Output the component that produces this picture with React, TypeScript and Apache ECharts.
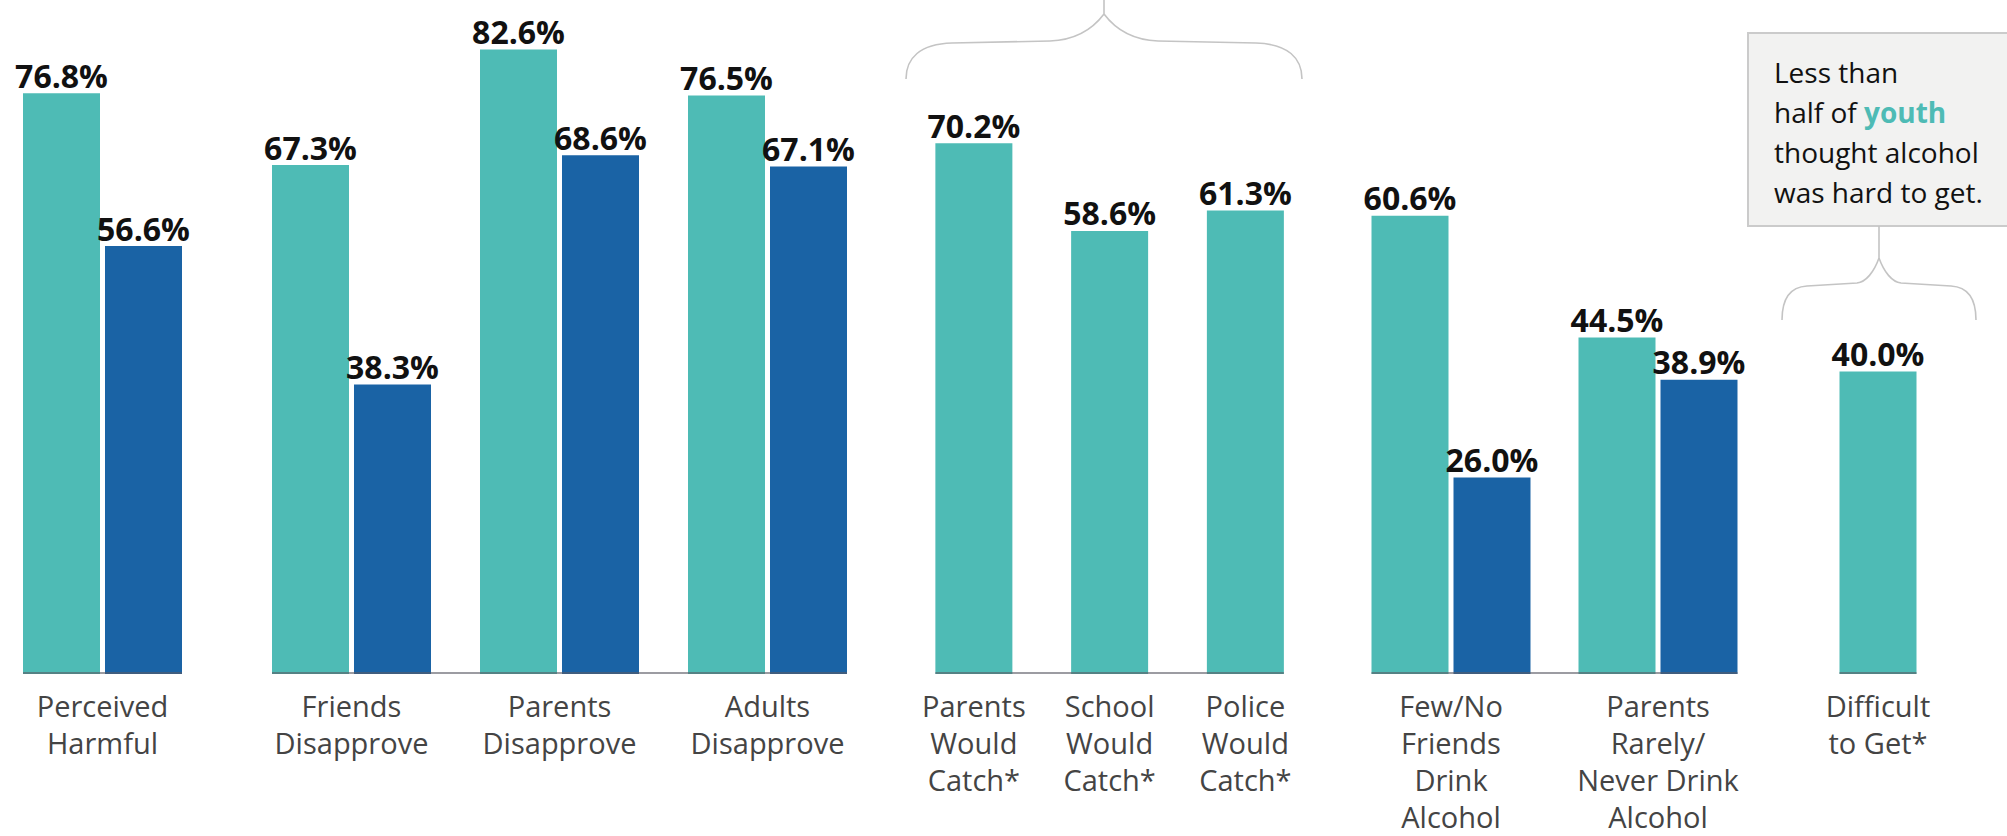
import React, { useEffect, useRef } from "react";
import * as echarts from "echarts";

// ---------------- data ----------------
const categories = [
  "Perceived\nHarmful",
  "Friends\nDisapprove",
  "Parents\nDisapprove",
  "Adults\nDisapprove",
  "Parents\nWould\nCatch*",
  "School\nWould\nCatch*",
  "Police\nWould\nCatch*",
  "Few/No\nFriends\nDrink\nAlcohol",
  "Parents\nRarely/\nNever Drink\nAlcohol",
  "Difficult\nto Get*",
];
const youthValues = [76.8, 67.3, 82.6, 76.5, 70.2, 58.6, 61.3, 60.6, 44.5, 40.0];
const comparisonValues: (number | null)[] = [56.6, 38.3, 68.6, 67.1, null, null, null, 26.0, 38.9, null];
// category indices belonging to each visual cluster
const clusterMembers = [[0], [1, 2, 3], [4, 5, 6], [7, 8], [9]];

// ---------------- layout / style ----------------
const W = 2007;
const H = 836;
const BASE_Y = 674; // pixel y of value 0
const GRID_TOP = 1;
const Y_MAX = 89;
const BAR_W = 77;
const BAR_GAP = 5;
const clusterLayout = [
  { left: 23, band: 159 },
  { left: 247.5, band: 208 },
  { left: 906, band: 135.75 },
  { left: 1347.5, band: 207 },
  { left: 1839.5, band: 77 },
];
const TEAL = "#4EBBB5";
const BLUE = "#1A63A5";
const FONT = "'Open Sans', 'Noto Sans', Lato, sans-serif";

const braceTopPath =
  "M 906 79 C 906 58, 920 44, 952 43 L 1050 41 C 1075 40, 1092 30, 1104 14 " +
  "C 1116 30, 1133 40, 1158 41 L 1256 43 C 1288 44, 1302 58, 1302 79 M 1104 14 L 1104 0";
const braceBoxPath =
  "M 1782 320 C 1782 298, 1790 287, 1807 286 L 1857 283 C 1866 282, 1874 272, 1879 258 " +
  "C 1884 272, 1892 282, 1901 283 L 1951 286 C 1968 287, 1976 298, 1976 320 M 1879 258 L 1879 226";

echarts.graphic.registerShape("braceTop", echarts.graphic.extendPath(braceTopPath, {}));
echarts.graphic.registerShape("braceBox", echarts.graphic.extendPath(braceBoxPath, {}));

function buildOption() {
  const grid: any[] = [];
  const xAxis: any[] = [];
  const yAxis: any[] = [];
  const series: any[] = [];
  const graphic: any[] = [];

  const valueLabel = {
    show: true,
    position: "top",
    distance: 2,
    fontFamily: FONT,
    fontSize: 32,
    lineHeight: 32,
    fontWeight: "bold",
    color: "#111",
    formatter: (p: any) => Number(p.value).toFixed(1) + "%",
  };

  clusterMembers.forEach((members, i) => {
    const { left, band } = clusterLayout[i];
    const hasPair = members.some((k) => comparisonValues[k] != null);
    const width = band * members.length;
    grid.push({
      left,
      top: GRID_TOP,
      width,
      height: BASE_Y - GRID_TOP,
      containLabel: false,
      outerBoundsMode: "none",
    });
    xAxis.push({
      gridIndex: i,
      type: "category",
      data: members.map((k) => categories[k]),
      axisLine: { show: false },
      axisTick: { show: false },
      splitLine: { show: false },
      axisLabel: {
        interval: 0,
        margin: 13,
        fontFamily: FONT,
        fontSize: 29,
        lineHeight: 37,
        color: "#444",
        hideOverlap: false,
      },
    });
    yAxis.push({
      gridIndex: i,
      type: "value",
      min: 0,
      max: Y_MAX,
      show: false,
      splitLine: { show: false },
    });
    series.push({
      name: "Youth",
      type: "bar",
      xAxisIndex: i,
      yAxisIndex: i,
      data: members.map((k) => youthValues[k]),
      barWidth: BAR_W,
      barGap: ((BAR_GAP / BAR_W) * 100).toFixed(2) + "%",
      itemStyle: { color: TEAL },
      label: valueLabel,
    });
    if (hasPair) {
      series.push({
        name: "Comparison",
        type: "bar",
        xAxisIndex: i,
        yAxisIndex: i,
        data: members.map((k) => comparisonValues[k]),
        barWidth: BAR_W,
        barGap: ((BAR_GAP / BAR_W) * 100).toFixed(2) + "%",
        itemStyle: { color: BLUE },
        label: valueLabel,
      });
    }
    // baseline under the bars of this cluster
    const groupW = hasPair ? BAR_W * 2 + BAR_GAP : BAR_W;
    const inset = (band - groupW) / 2;
    graphic.push({
      type: "line",
      z: 100,
      shape: { x1: left + inset, y1: BASE_Y - 1, x2: left + width - inset, y2: BASE_Y - 1 },
      style: { stroke: "rgba(90,90,100,0.6)", lineWidth: 2 },
    });
  });

  // braces and callout
  graphic.push({
    type: "braceTop",
    x: 0,
    y: 0,
    style: { fill: "none", stroke: "#c4c4c4", lineWidth: 1.6 },
  });
  graphic.push({
    type: "rect",
    shape: { x: 1748, y: 33, width: 280, height: 193 },
    style: { fill: "#f2f2f1", stroke: "#cbcbcb", lineWidth: 2 },
  });
  graphic.push({
    type: "braceBox",
    x: 0,
    y: 0,
    style: { fill: "none", stroke: "#c4c4c4", lineWidth: 1.6 },
  });
  graphic.push({
    type: "text",
    x: 1774,
    y: 52,
    z: 10,
    style: {
      text: "Less than\nhalf of {y|youth}\nthought alcohol\nwas hard to get.",
      fontFamily: FONT,
      fontSize: 28,
      lineHeight: 40,
      fill: "#111",
      verticalAlign: "top",
      align: "left",
      rich: {
        y: {
          fontFamily: FONT,
          fontSize: 28,
          lineHeight: 40,
          fontWeight: "bold",
          fill: TEAL,
        },
      },
    },
  });

  return {
    animation: false,
    backgroundColor: "#ffffff",
    grid,
    xAxis,
    yAxis,
    series,
    graphic,
  };
}

export default function App() {
  const ref = useRef<HTMLDivElement>(null);
  useEffect(() => {
    if (!ref.current) return;
    const chart = echarts.init(ref.current, null, { renderer: "svg" });
    chart.setOption(buildOption() as any);
    return () => chart.dispose();
  }, []);
  return (
    <div
      ref={ref}
      style={{ position: "absolute", left: 0, top: 0, width: W, height: H, background: "#fff" }}
    />
  );
}
